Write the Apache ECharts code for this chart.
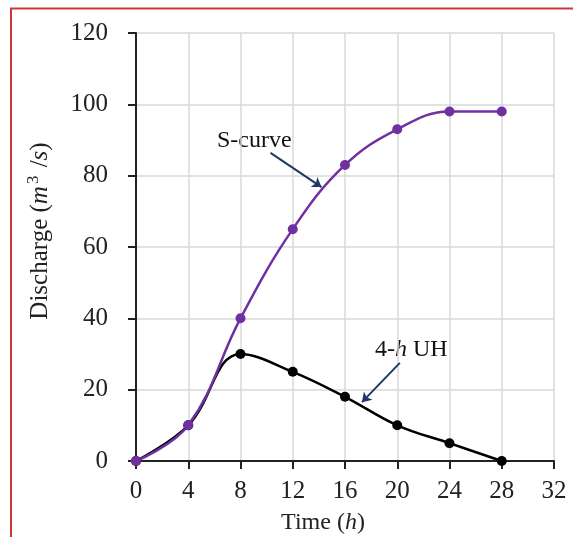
<!DOCTYPE html>
<html>
<head>
<meta charset="utf-8">
<script src="https://cdn.jsdelivr.net/npm/echarts@6/dist/echarts.min.js"></script>
<style>
  html, body { margin: 0; padding: 0; background: #fff; }
  #chart { width: 573px; height: 537px; }
</style>
</head>
<body>
<div id="chart"></div>
<script>
// time (h)
const timeHours = [0, 4, 8, 12, 16, 20, 24, 28]
// S-curve discharge
const sCurve = [0, 10, 40, 65, 83, 93, 98, 98]
// 4-h unit hydrograph
const uh4 = [0, 10, 30, 25, 18, 10, 5, 0]

// annotation arrows, in data coords [from, to]
const sCurveArrow = [[10.3, 86.4], [14.2, 76.8]]
const uhArrow = [[20.2, 27.5], [17.3, 16.5]]

const font = 'Liberation Serif'
const purple = '#7030a0'
const navy = '#1f3864'

const toPairs = (xs, ys) => xs.map((x, i) => [x, ys[i]])

const chart = echarts.init(document.getElementById('chart'))
chart.setOption({
  animation: false,
  backgroundColor: '#fff',
  grid: { left: 136, right: 19, top: 33, bottom: 76, outerBoundsMode: 'none', containLabel: false },
  xAxis: {
    type: 'value',
    min: 0,
    max: 32,
    interval: 4,
    name: '{n|Time (}{i|h}{n|)}',
    nameLocation: 'middle',
    nameGap: 50,
    nameTextStyle: {
      padding: [0, 44, 0, 0],
      rich: {
        n: { fontFamily: font, fontSize: 24, color: '#222' },
        i: { fontFamily: font, fontSize: 24, color: '#222', fontStyle: 'italic' }
      }
    },
    axisLine: { show: true, lineStyle: { color: '#222', width: 2 } },
    axisTick: { show: true, length: 8, lineStyle: { color: '#222', width: 2 } },
    axisLabel: { margin: 18, fontFamily: font, fontSize: 25, color: '#222' },
    splitLine: { show: true, lineStyle: { color: '#d9d9d9', width: 1.5 } }
  },
  yAxis: {
    type: 'value',
    min: 0,
    max: 120,
    interval: 20,
    name: '{n|Discharge (}{i|m}{s|3}{n| /}{i|s}{n|)}',
    nameLocation: 'middle',
    nameGap: 80,
    nameTextStyle: {
      padding: [0, 0, 0, 32],
      rich: {
        n: { fontFamily: font, fontSize: 25, color: '#222' },
        i: { fontFamily: font, fontSize: 25, color: '#222', fontStyle: 'italic' },
        s: { fontFamily: font, fontSize: 17, color: '#222', padding: [0, 2, 14, 2] }
      }
    },
    axisLine: { show: true, lineStyle: { color: '#222', width: 2 } },
    axisTick: { show: true, length: 8, lineStyle: { color: '#222', width: 2 } },
    axisLabel: { margin: 28, fontFamily: font, fontSize: 25, color: '#222' },
    splitLine: { show: true, lineStyle: { color: '#d9d9d9', width: 1.5 } }
  },
  series: [
    {
      name: '4-h UH',
      type: 'line',
      smooth: 0.4,
      data: toPairs(timeHours, uh4),
      symbol: 'circle',
      symbolSize: 10,
      lineStyle: { color: '#000', width: 2.5 },
      itemStyle: { color: '#000' },
      markLine: {
        silent: true,
        symbol: ['none', 'arrow'],
        symbolSize: 9,
        label: { show: false },
        lineStyle: { color: navy, width: 2, type: 'solid' },
        data: [[{ coord: uhArrow[0] }, { coord: uhArrow[1] }]]
      }
    },
    {
      name: 'S-curve',
      type: 'line',
      smooth: 0.4,
      data: toPairs(timeHours, sCurve),
      symbol: 'circle',
      symbolSize: 10,
      lineStyle: { color: purple, width: 2.5 },
      itemStyle: { color: purple },
      markLine: {
        silent: true,
        symbol: ['none', 'arrow'],
        symbolSize: 9,
        label: { show: false },
        lineStyle: { color: navy, width: 2, type: 'solid' },
        data: [[{ coord: sCurveArrow[0] }, { coord: sCurveArrow[1] }]]
      }
    }
  ],
  graphic: [
    {
      type: 'rect',
      silent: true,
      z: -1,
      shape: { x: 11, y: 8.5, width: 700, height: 700 },
      style: { fill: 'none', stroke: '#cc3838', lineWidth: 2 }
    },
    {
      type: 'text',
      left: 217,
      top: 129,
      style: { text: 'S-curve', font: '24px "Liberation Serif"', fill: '#111' }
    },
    {
      type: 'text',
      left: 375,
      top: 338,
      style: {
        text: '{n|4-}{i|h}{n| UH}',
        rich: {
          n: { font: '24px "Liberation Serif"', fill: '#111' },
          i: { font: 'italic 24px "Liberation Serif"', fill: '#111' }
        }
      }
    }
  ]
})
</script>
</body>
</html>
